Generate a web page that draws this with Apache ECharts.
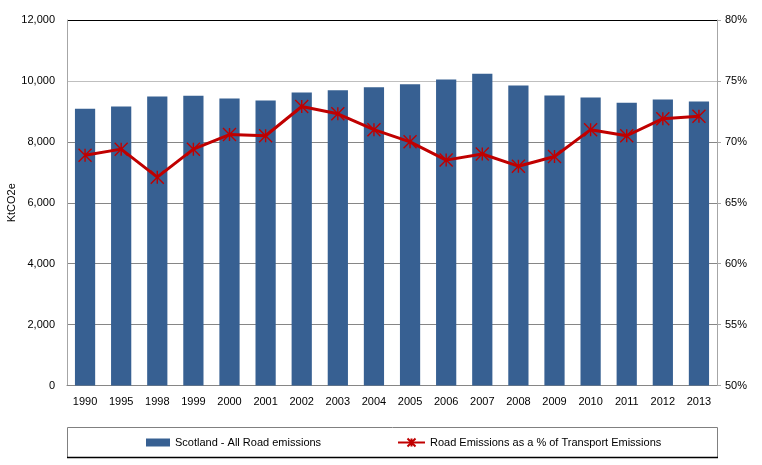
<!DOCTYPE html>
<html>
<head>
<meta charset="utf-8">
<script src="https://cdn.jsdelivr.net/npm/echarts@6/dist/echarts.min.js"></script>
<style>html,body{margin:0;padding:0;background:#fff}#c{width:762px;height:465px}</style>
</head>
<body>
<div id="c"></div>
<script>
const years = ['1990','1995','1998','1999','2000','2001','2002','2003','2004','2005','2006','2007','2008','2009','2010','2011','2012','2013'];
const roadEmissions = [9090,9160,9490,9510,9420,9360,9620,9690,9790,9890,10050,10235,9850,9520,9455,9285,9390,9325];
const roadSharePct = [68.9,69.4,67.1,69.4,70.6,70.5,72.9,72.3,71.0,70.0,68.5,69.0,68.0,68.8,71.0,70.5,71.9,72.1];
const leftTicks = [0,2000,4000,6000,8000,10000,12000];
const rightTicks = [50,55,60,65,70,75,80];

const FONT = 'Liberation Sans';
const star = 'path://M0,0L10,10M10,0L0,10M5,0L5,10';
const chart = echarts.init(document.getElementById('c'), null, {renderer:'canvas'});
chart.setOption({
  animation:false,
  textStyle:{fontFamily:FONT, fontSize:11, color:'#000'},
  grid:{left:67, right:45, top:20, bottom:79.5, containLabel:false, outerBoundsMode:'none'},
  xAxis:{
    type:'category', data:years,
    axisLine:{lineStyle:{color:'#868686', width:1}},
    axisTick:{show:false},
    axisLabel:{margin:11, color:'#000', fontFamily:FONT, fontSize:11}
  },
  yAxis:[{
    type:'value', min:leftTicks[0], max:leftTicks[leftTicks.length-1], interval:2000,
    name:'KtCO2e', nameLocation:'middle', nameGap:50, nameMoveOverlap:false,
    nameTextStyle:{color:'#000', fontFamily:FONT, fontSize:11},
    axisLine:{show:true, lineStyle:{color:'#a6a6a6'}},
    axisTick:{show:false},
    axisLabel:{margin:12, color:'#000', fontFamily:FONT, fontSize:11,
      formatter:v=>v.toLocaleString('en-US')},
    splitLine:{show:true, lineStyle:{color:['#868686','#868686','#868686','#868686','#868686','#bfbfbf','#000000'], width:1}}
  },{
    type:'value', min:rightTicks[0], max:rightTicks[rightTicks.length-1], interval:5,
    position:'right',
    axisLine:{show:true, lineStyle:{color:'#a6a6a6'}},
    axisTick:{show:true, inside:false, length:4, lineStyle:{color:'#a6a6a6'}},
    axisLabel:{margin:8, color:'#000', fontFamily:FONT, fontSize:11, formatter:'{value}%'},
    splitLine:{show:false}
  }],
  legend:[{
    data:[{name:'Scotland - All Road emissions', icon:'rect'}],
    left:141, top:432, itemWidth:24, itemHeight:8, itemGap:5,
    textStyle:{fontFamily:FONT, fontSize:11, color:'#000'}
  },{
    data:['Road Emissions as a % of Transport Emissions'],
    left:392, top:432, itemWidth:27, itemHeight:10, itemGap:4,
    textStyle:{fontFamily:FONT, fontSize:11, color:'#000'}
  }],
  graphic:[
    {type:'rect', shape:{x:67.5, y:427.5, width:650, height:30}, style:{fill:'none', stroke:'#808080', lineWidth:1}, silent:true},
    {type:'line', shape:{x1:67, y1:457.5, x2:718, y2:457.5}, style:{stroke:'#000', lineWidth:1.5}, silent:true}
  ],
  series:[{
    name:'Scotland - All Road emissions', type:'bar', data:roadEmissions, yAxisIndex:0,
    barWidth:'56%', itemStyle:{color:'#376092'}
  },{
    name:'Road Emissions as a % of Transport Emissions', type:'line', data:roadSharePct, yAxisIndex:1,
    symbol:star, symbolSize:13, showAllSymbol:true,
    lineStyle:{color:'#C00000', width:3},
    itemStyle:{color:'#C00000', borderColor:'#C00000', borderWidth:1.4}
  }]
});
</script>
</body>
</html>
